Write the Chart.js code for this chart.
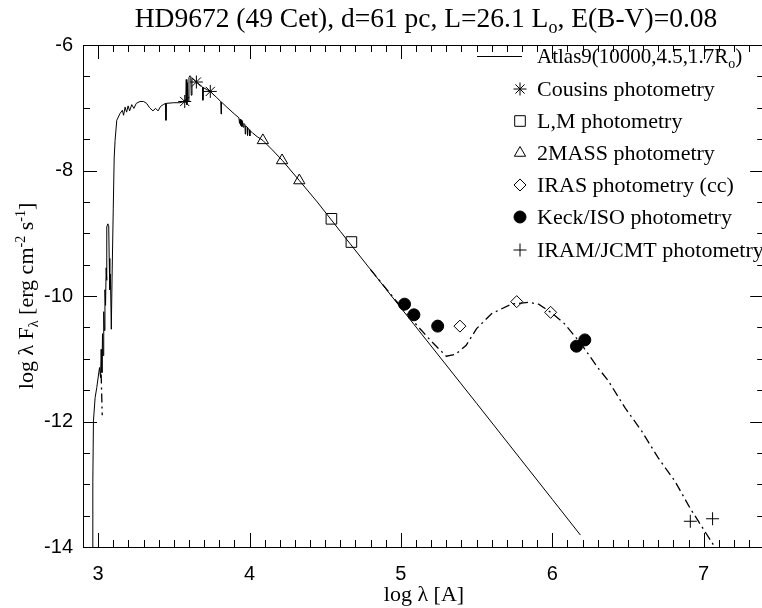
<!DOCTYPE html>
<html>
<head>
<meta charset="utf-8">
<script src="https://cdn.jsdelivr.net/npm/chart.js@4.4.0/dist/chart.umd.min.js"></script>
<style>
  html, body { margin: 0; padding: 0; background: #fff; }
  #wrap { width: 762px; height: 608px; }
</style>
</head>
<body>
<div id="wrap"><canvas id="sed" width="762" height="608"></canvas></div>
<script>
// Atlas9 model (solid), log lambda [A] vs log lambda F_lambda
const modelX = [2.962, 2.965, 2.969, 2.980, 2.991, 3.009, 3.016, 3.020, 3.025, 3.029, 3.033, 3.037, 3.041, 3.045,
  3.049, 3.053, 3.056, 3.058, 3.064, 3.070, 3.073, 3.077, 3.081, 3.087, 3.092, 3.100, 3.106, 3.112, 3.123, 3.145,
  3.160, 3.168, 3.178, 3.188, 3.198, 3.208, 3.222, 3.236, 3.252, 3.276, 3.300, 3.320, 3.340, 3.362, 3.380, 3.396,
  3.412, 3.430, 3.446, 3.448, 3.450, 3.500, 3.540, 3.572, 3.579, 3.582, 3.586, 3.590, 3.594, 3.600, 3.606, 3.612,
  3.615, 3.620, 3.640, 3.660, 3.690, 3.692, 3.695, 3.741, 3.780, 3.810, 3.812, 3.815, 3.850, 3.900, 3.930, 3.934,
  3.938, 3.942, 3.946, 3.950, 3.954, 3.958, 3.963, 3.970, 3.972, 3.975, 3.985, 3.987, 3.990, 4.000, 4.002, 4.005,
  4.020, 4.050, 4.088, 4.150, 4.217, 4.329, 4.447, 4.600, 5.000, 5.500, 6.000, 6.186];
const modelY = [-14.05, -12.95, -11.99, -11.62, -11.46, -11.14, -11.30, -10.85, -11.22, -10.60, -10.95, -10.25, -10.55, -9.90,
  -10.15, -9.55, -9.75, -8.90, -8.85, -8.88, -9.40, -9.90, -9.65, -10.53, -9.70, -8.60, -7.80, -7.52, -7.20, -7.09,
  -7.04, -7.12, -6.99, -7.07, -6.97, -7.05, -6.95, -7.01, -6.93, -6.90, -6.90, -6.93, -7.00, -7.05, -7.01, -7.05,
  -6.98, -6.95, -6.93, -7.20, -6.93, -6.92, -6.92, -6.90, -6.85, -6.55, -6.95, -6.60, -6.90, -6.52, -6.49, -6.50,
  -6.80, -6.53, -6.57, -6.61, -6.67, -6.88, -6.68, -6.74, -6.83, -6.90, -7.10, -6.91, -6.99, -7.10, -7.16, -7.25,
  -7.18, -7.28, -7.20, -7.30, -7.22, -7.31, -7.25, -7.27, -7.42, -7.29, -7.31, -7.44, -7.33, -7.35, -7.45, -7.37,
  -7.40, -7.46, -7.52, -7.67, -7.84, -8.16, -8.50, -8.97, -10.19, -11.71, -13.24, -13.81];

// star + disk model (dash-dot), UV piece and IR piece
const uvDashX = [3.020, 3.027];
const uvDashY = [-11.25, -11.90];
const diskX = [4.80, 5.00, 5.10, 5.20, 5.30, 5.36, 5.43, 5.50, 5.60, 5.73, 5.84, 5.91, 5.99, 6.08, 6.19, 6.30,
  6.37, 6.48, 6.59, 6.70, 6.81, 6.91, 7.05, 7.10];
const diskY = [-9.58, -10.17, -10.45, -10.72, -10.96, -10.93, -10.79, -10.52, -10.28, -10.13, -10.10, -10.13, -10.26,
  -10.44, -10.76, -11.14, -11.35, -11.78, -12.15, -12.58, -12.95, -13.38, -13.91, -14.10];

// photometry
const cousinsX = [3.572, 3.649, 3.741];
const cousinsY = [-6.90, -6.59, -6.74];
const lmX = [4.541, 4.673];
const lmY = [-8.77, -9.14];
const massX = [4.088, 4.215, 4.329];
const massY = [-7.52, -7.84, -8.16];
const irasX = [5.390, 5.765, 5.989];
const irasY = [-10.48, -10.09, -10.26];
const keckX = [5.024, 5.086, 5.243, 6.160, 6.215];
const keckY = [-10.13, -10.30, -10.48, -10.80, -10.70];
const iramX = [6.912, 7.059];
const iramY = [-13.59, -13.55];

const xTicks = [3, 4, 5, 6, 7];
const yTicks = [-14, -12, -10, -8, -6];

const pts = (xs, ys) => xs.map((x, i) => ({ x: x, y: ys[i] }));

const SERIF = '"Liberation Serif", "DejaVu Serif", serif';
const SANS = '"Liberation Sans", Arial, sans-serif';

// text with sub/superscripts: parts = [[text, 'n'|'sub'|'sup'], ...]
function richWidth(ctx, parts, size) {
  let w = 0;
  parts.forEach(p => {
    ctx.font = (p[1] === 'n' ? size : Math.round(size * 0.65)) + 'px ' + SERIF;
    w += ctx.measureText(p[0]).width;
  });
  return w;
}
function drawRich(ctx, parts, x, y, size, align) {
  let cx = x;
  if (align === 'center') cx = x - richWidth(ctx, parts, size) / 2;
  ctx.textAlign = 'left';
  ctx.textBaseline = 'alphabetic';
  parts.forEach(p => {
    let dy = 0;
    let s = size;
    if (p[1] === 'sub') { s = Math.round(size * 0.65); dy = size * 0.22; }
    if (p[1] === 'sup') { s = Math.round(size * 0.65); dy = -size * 0.38; }
    ctx.font = s + 'px ' + SERIF;
    ctx.fillText(p[0], cx, y + dy);
    cx += ctx.measureText(p[0]).width;
  });
}

// the original plot box runs a couple of pixels past the right edge of the image
const widenArea = {
  id: 'widenArea',
  afterLayout(chart) {
    const xs = chart.scales.x;
    xs.right = 764.2;
    xs.width = xs.right - xs.left;
    xs.configure();
    chart.chartArea.right = 764.2;
    chart.chartArea.width = chart.chartArea.right - chart.chartArea.left;
  }
};

const decorations = {
  id: 'decorations',
  afterDraw(chart) {
    const ctx = chart.ctx;
    const a = chart.chartArea;
    const xs = chart.scales.x;
    const ys = chart.scales.y;
    ctx.save();
    ctx.strokeStyle = '#000';
    ctx.fillStyle = '#000';
    ctx.lineWidth = 1;

    // frame
    ctx.strokeRect(Math.round(a.left) + 0.5, Math.round(a.top) + 0.5,
      Math.round(a.right - a.left), Math.round(a.bottom - a.top));

    // ticks on all four sides, pointing inward
    ctx.beginPath();
    for (let k = Math.ceil(xs.min * 10); k <= Math.floor(xs.max * 10); k++) {
      const px = Math.round(xs.getPixelForValue(k / 10)) + 0.5;
      const len = k % 10 === 0 ? 14 : 7;
      ctx.moveTo(px, a.bottom); ctx.lineTo(px, a.bottom - len);
      ctx.moveTo(px, a.top); ctx.lineTo(px, a.top + len);
    }
    for (let k = Math.ceil(ys.min * 2); k <= Math.floor(ys.max * 2); k++) {
      const py = Math.round(ys.getPixelForValue(k / 2)) + 0.5;
      const len = k % 4 === 0 ? 14 : 7;
      ctx.moveTo(a.left, py); ctx.lineTo(a.left + len, py);
      ctx.moveTo(a.right, py); ctx.lineTo(a.right - len, py);
    }
    ctx.stroke();

    // title
    drawRich(ctx, [['HD9672 (49 Cet), d=61 pc, L=26.1 L', 'n'], ['o', 'sub'], [', E(B-V)=0.08', 'n']],
      426, 27, 27.5, 'center');

    // axis titles
    drawRich(ctx, [['log \u03bb [A]', 'n']], 424, 601, 22, 'center');
    ctx.save();
    ctx.translate(33, (a.top + a.bottom) / 2);
    ctx.rotate(-Math.PI / 2);
    drawRich(ctx, [['log \u03bb F', 'n'], ['\u03bb', 'sub'], [' [erg cm', 'n'], ['-2', 'sup'], [' s', 'n'], ['-1', 'sup'], [']', 'n']],
      0, 0, 22, 'center');
    ctx.restore();

    // legend
    const lx = 520, tx = 537;
    const rows = [
      { y: 56, line: true, size: 21, text: [['Atlas9(10000,4.5,1.7R', 'n'], ['o', 'sub'], [')', 'n']] },
      { y: 89, style: 'star', r: 6.5, fill: false, text: [['Cousins photometry', 'n']] },
      { y: 121, style: 'rect', r: 7.5, fill: false, text: [['L,M photometry', 'n']] },
      { y: 153, style: 'triangle', r: 6.5, fill: false, text: [['2MASS photometry', 'n']] },
      { y: 185, style: 'rectRot', r: 6, fill: false, text: [['IRAS photometry (cc)', 'n']] },
      { y: 217, style: 'circle', r: 6, fill: true, text: [['Keck/ISO photometry', 'n']] },
      { y: 250, style: 'cross', r: 6.5, fill: false, text: [['IRAM/JCMT photometry', 'n']] }
    ];
    rows.forEach(row => {
      if (row.line) {
        ctx.beginPath();
        ctx.moveTo(477, row.y + 0.5); ctx.lineTo(522, row.y + 0.5);
        ctx.stroke();
      } else {
        ctx.fillStyle = row.fill ? '#000' : 'rgba(0,0,0,0)';
        Chart.helpers.drawPoint(ctx, { pointStyle: row.style, radius: row.r, rotation: 0, borderWidth: 1 }, lx, row.y);
        ctx.fillStyle = '#000';
      }
      drawRich(ctx, row.text, tx, row.y + 7, row.size || 22, 'left');
    });
    ctx.restore();
  }
};

const openMarker = (label, xs, ys, style, r) => ({
  label: label,
  type: 'scatter',
  data: pts(xs, ys),
  pointStyle: style,
  pointRadius: r,
  pointBorderColor: '#000',
  pointBackgroundColor: 'rgba(0,0,0,0)',
  pointBorderWidth: 1,
  showLine: false
});

new Chart(document.getElementById('sed'), {
  type: 'scatter',
  data: {
    datasets: [
      openMarker('Cousins photometry', cousinsX, cousinsY, 'star', 6.5),
      openMarker('L,M photometry', lmX, lmY, 'rect', 7.5),
      openMarker('2MASS photometry', massX, massY, 'triangle', 6.5),
      openMarker('IRAS photometry (cc)', irasX, irasY, 'rectRot', 6),
      {
        label: 'Keck/ISO photometry',
        type: 'scatter',
        data: pts(keckX, keckY),
        pointStyle: 'circle',
        pointRadius: 6,
        pointBackgroundColor: '#000',
        pointBorderColor: '#000',
        showLine: false
      },
      openMarker('IRAM/JCMT photometry', iramX, iramY, 'cross', 6.5),
      {
        label: 'Atlas9',
        type: 'line',
        data: pts(modelX, modelY),
        borderColor: '#000',
        borderWidth: 1,
        pointRadius: 0,
        tension: 0,
        fill: false
      },
      {
        label: 'star+disk UV',
        type: 'line',
        data: pts(uvDashX, uvDashY),
        borderColor: '#000',
        borderWidth: 1.3,
        borderDash: [9, 4, 2, 4],
        pointRadius: 0,
        tension: 0,
        fill: false
      },
      {
        label: 'star+disk',
        type: 'line',
        data: pts(diskX, diskY),
        borderColor: '#000',
        borderWidth: 1.3,
        borderDash: [9, 4, 2, 4],
        pointRadius: 0,
        tension: 0,
        fill: false
      }
    ]
  },
  options: {
    responsive: false,
    animation: false,
    devicePixelRatio: 1,
    layout: { autoPadding: false, padding: { top: 45, right: 0, left: 0, bottom: 0 } },
    plugins: { legend: { display: false }, title: { display: false }, tooltip: { enabled: false } },
    scales: {
      x: {
        type: 'linear',
        min: 2.9,
        max: 7.4,
        grid: { display: false, drawTicks: false },
        border: { display: false },
        afterBuildTicks: s => { s.ticks = xTicks.map(v => ({ value: v })); },
        afterFit: s => { s.height = 61; s.paddingLeft = 0; s.paddingRight = 0; },
        ticks: { color: '#000', padding: 15, font: { family: SANS, size: 20 }, maxRotation: 0, callback: v => String(v) }
      },
      y: {
        type: 'linear',
        min: -14,
        max: -6,
        grid: { display: false, drawTicks: false },
        border: { display: false },
        afterBuildTicks: s => { s.ticks = yTicks.map(v => ({ value: v })); },
        afterFit: s => { s.width = 83; s.paddingTop = 0; s.paddingBottom = 0; },
        ticks: { color: '#000', padding: 10, font: { family: SANS, size: 20 }, callback: v => String(v) }
      }
    }
  },
  plugins: [widenArea, decorations]
});
</script>
</body>
</html>
